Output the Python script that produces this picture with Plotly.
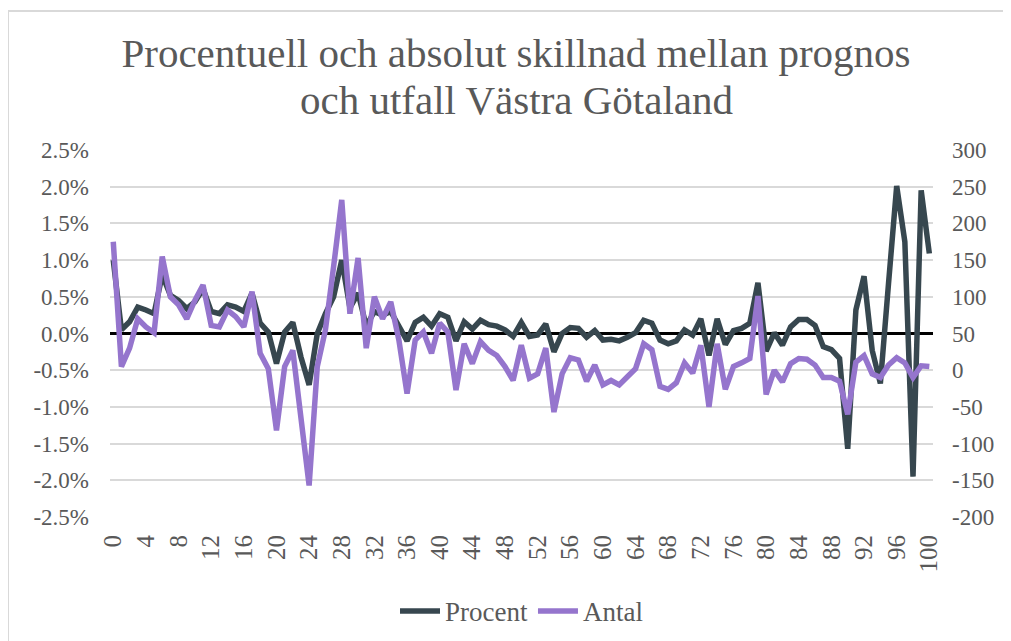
import plotly.graph_objects as go

ages = list(range(0, 101))

procent = [1.0, 0.05, 0.16, 0.36, 0.32, 0.27, 0.8, 0.52, 0.45, 0.34,
           0.43, 0.61, 0.30, 0.27, 0.39, 0.36, 0.30, 0.55, 0.14, 0.02,
           -0.41, 0.02, 0.15, -0.32, -0.70, 0.0, 0.27, 0.5, 1.0, 0.35,
           0.55, 0.1, 0.3, 0.25, 0.3, 0.1, -0.1, 0.15, 0.22, 0.1,
           0.27, 0.22, -0.1, 0.16, 0.06, 0.18, 0.12, 0.1, 0.05, -0.04,
           0.15, -0.04, -0.02, 0.13, -0.25, 0.0, 0.08, 0.07, -0.05, 0.04,
           -0.09, -0.08, -0.10, -0.05, 0.01, 0.18, 0.14, -0.09, -0.14, -0.10,
           0.05, -0.02, 0.20, -0.30, 0.20, -0.15, 0.04, 0.07, 0.14, 0.69,
           -0.24, 0.01, -0.16, 0.09, 0.19, 0.19, 0.11, -0.18, -0.22, -0.34,
           -1.57, 0.32, 0.78, -0.23, -0.68, 0.68, 2.01, 1.25, -1.95, 1.95,
           1.09]

antal = [175, 5, 30, 70, 59, 51, 155, 100, 89, 70,
         95, 116, 61, 59, 82, 73, 59, 107, 23, 2,
         -82, 5, 27, -73, -157, 5, 55, 141, 232, 77,
         153, 30, 100, 70, 93, 41, -32, 41, 52, 23,
         64, 52, -27, 36, 9, 39, 27, 20, 5, -14,
         34, -11, -5, 30, -57, -5, 17, 14, -15, 7,
         -20, -14, -20, -9, 2, 36, 28, -22, -26, -17,
         10, -4, 34, -50, 36, -26, 5, 10, 16, 101,
         -33, 0, -16, 9, 16, 15, 7, -10, -10, -15,
         -60, 11, 20, -5, -10, 7, 17, 10, -10, 6,
         5]

left_ticks = [-2.5, -2.0, -1.5, -1.0, -0.5, 0.0, 0.5, 1.0, 1.5, 2.0, 2.5]
left_labels = ["-2.5%", "-2.0%", "-1.5%", "-1.0%", "-0.5%", "0.0%",
               "0.5%", "1.0%", "1.5%", "2.0%", "2.5%"]
right_ticks = [-200, -150, -100, -50, 0, 50, 100, 150, 200, 250, 300]
right_labels = ["-200", "-150", "-100", "-50", "0", "50", "100", "150",
                "200", "250", "300"]
x_ticks = list(range(0, 101, 4))

title_line1 = "Procentuell och absolut skillnad mellan prognos"
title_line2 = "och utfall Västra Götaland"

FONT = "Liberation Serif, Georgia, serif"
GREY = "#595959"
DARK = "#37474F"
PURPLE = "#9575CD"

# page body has an 8px margin; figure is laid out in page coords minus 8
W, H = 1003, 633
PL, PR, PT, PB = 102, 925, 142, 508.7   # plot area in figure pixels
PW, PH = PR - PL, PB - PT

fig = go.Figure()
fig.add_trace(go.Scatter(x=ages, y=procent, name="Procent", mode="lines",
                         line=dict(color=DARK, width=5.5)))
fig.add_trace(go.Scatter(x=ages, y=antal, name="Antal", mode="lines",
                         line=dict(color=PURPLE, width=5.5), yaxis="y2"))

fig.update_layout(
    width=W, height=H,
    margin=dict(l=PL, r=W - PR, t=PT, b=H - PB, autoexpand=False),
    paper_bgcolor="white", plot_bgcolor="white",
    font=dict(family=FONT, color=GREY, size=22),
    title=dict(text=title_line1, x=508 / W, xref="container", xanchor="center",
               y=1 - 45 / H, yref="container", yanchor="middle",
               font=dict(family=FONT, size=41, color=GREY)),
    xaxis=dict(range=[-0.4, 100.45], tickvals=x_ticks, tickangle=-90,
               showgrid=False, zeroline=False, showline=False, ticks="",
               automargin=False, ticklabelstandoff=12,
               tickfont=dict(size=25, color=GREY)),
    yaxis=dict(range=[-2.5, 2.5], tickvals=left_ticks, ticktext=left_labels,
               showgrid=True, gridcolor="#d9d9d9", gridwidth=1.5,
               zeroline=True, zerolinecolor="black", zerolinewidth=3,
               showline=False, ticks="", automargin=False,
               ticklabelstandoff=20, tickfont=dict(size=23, color=GREY)),
    yaxis2=dict(range=[-200, 300], tickvals=right_ticks, ticktext=right_labels,
                overlaying="y", side="right", showgrid=False, zeroline=False,
                showline=False, ticks="", automargin=False,
                ticklabelstandoff=18, tickfont=dict(size=23, color=GREY)),
    legend=dict(orientation="h", x=0.5, xanchor="center",
                y=(PB - 603) / PH, yanchor="middle",
                font=dict(size=27, color=GREY), itemwidth=40),
    showlegend=True,
)

fig.add_annotation(text=title_line2, xref="paper", yref="paper",
                   x=(508 - PL) / PW, y=(PB - 92) / PH,
                   xanchor="center", yanchor="middle", showarrow=False,
                   font=dict(family=FONT, size=41, color=GREY))

# outer chart border (top-left corner visible)
fig.add_shape(type="rect", xref="paper", yref="paper",
              x0=(0 - PL) / PW, x1=(W + 20 - PL) / PW,
              y0=(PB - H - 20) / PH, y1=(PB - 3) / PH,
              line=dict(color="#d9d9d9", width=2), fillcolor="rgba(0,0,0,0)",
              layer="below")

fig.write_html("out.html")
